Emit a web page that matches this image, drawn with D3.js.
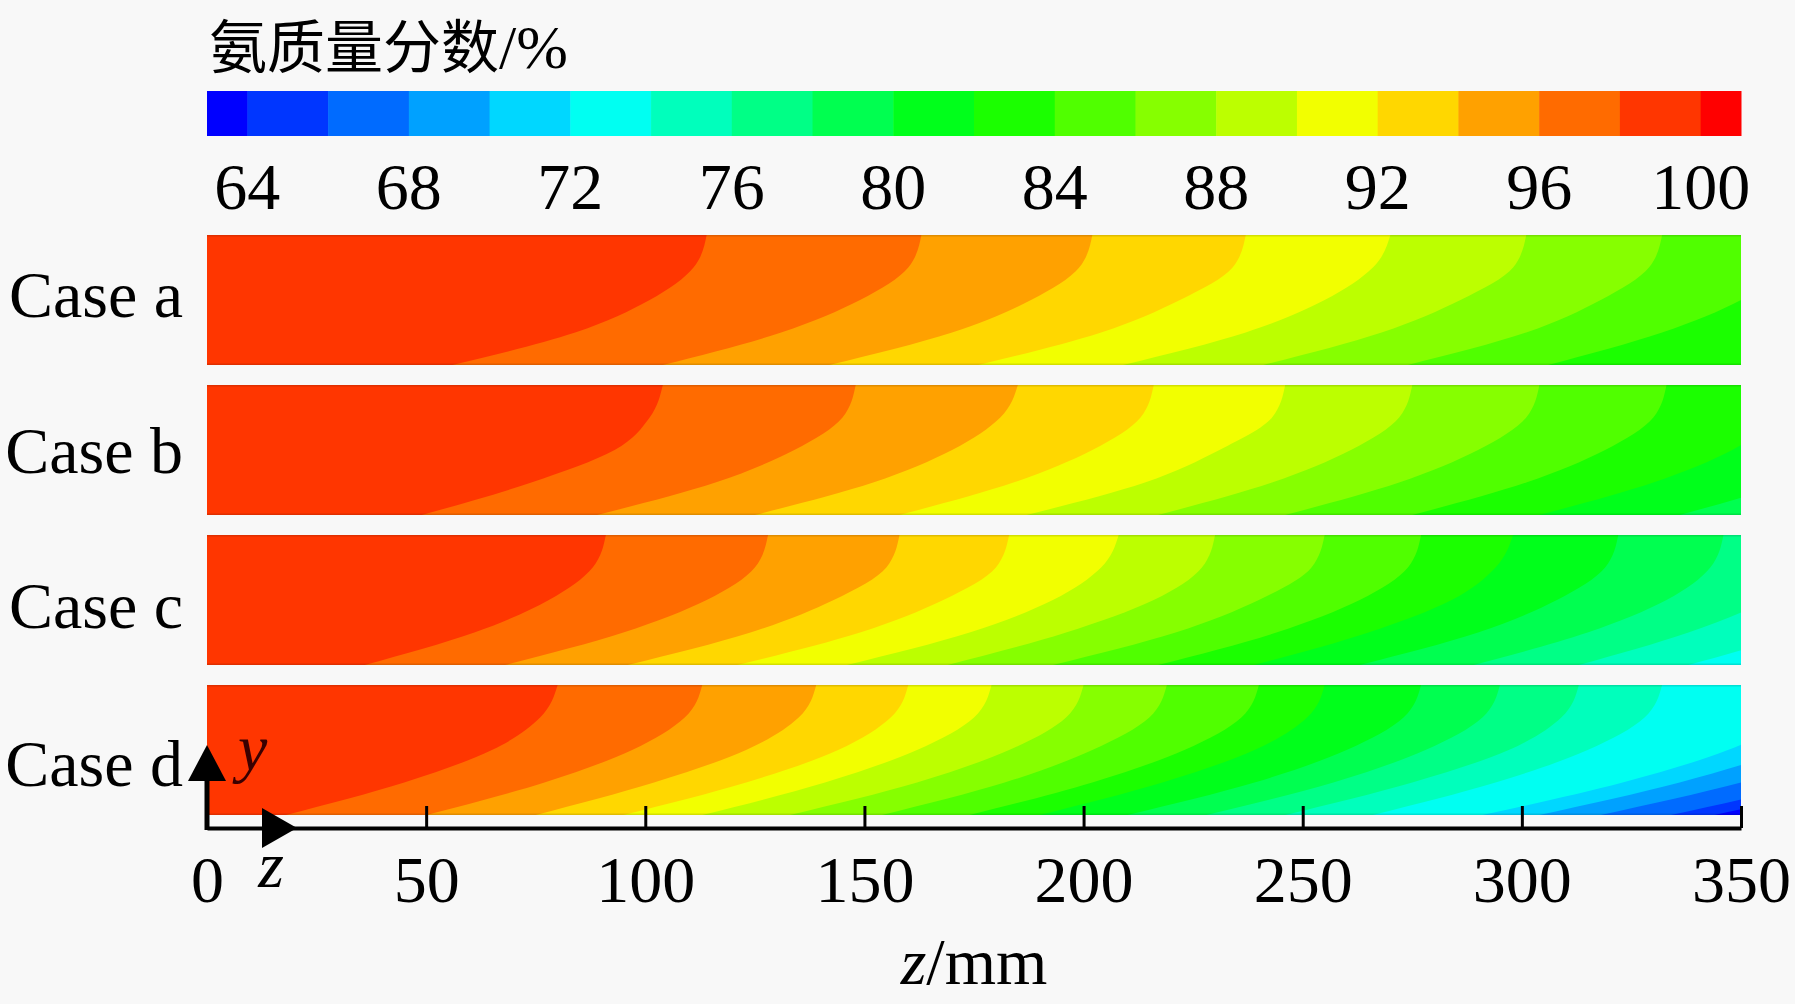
<!DOCTYPE html>
<html>
<head>
<meta charset="utf-8">
<script src="https://cdn.jsdelivr.net/npm/d3@7"></script>
<style>
  body { margin: 0; background: #f8f8f8; }
  svg { display: block; }
</style>
</head>
<body>
<div id="chart"></div>
<script>
// Datos
const cases = ["Case a", "Case b", "Case c", "Case d"];
const zTicks = [0, 50, 100, 150, 200, 250, 300, 350];
const barEdges = [63, 64, 66, 68, 70, 72, 74, 76, 78, 80, 82, 84, 86, 88, 90, 92, 94, 96, 98, 100, 101];
const barTicks = [64, 68, 72, 76, 80, 84, 88, 92, 96, 100];
const bandColors = [
  "#0000ff", "#0036ff", "#006bff", "#00a1ff", "#00d7ff",
  "#00fff2", "#00ffbc", "#00ff86", "#00ff50", "#00ff1b",
  "#1bff00", "#50ff00", "#86ff00", "#bcff00", "#f2ff00",
  "#ffd700", "#ffa100", "#ff6b00", "#ff3600", "#ff0000"
];

// Posición relativa de cada fila (0 = borde superior, 1 = pared inferior)
const rowFractions = [0, 0.25, 0.5, 0.75, 1];

// Isolíneas: nivel (%) y posición z (mm) en cada fila
const caseALevels = [98, 96, 94, 92, 90, 88, 86, 84];
const caseAZ = [
  [114, 111, 101, 84, 56],
  [163, 160, 149, 131, 104],
  [202, 199, 188, 170, 142],
  [237, 234, 222, 204, 176],
  [270, 266, 255, 237, 209],
  [301, 298, 286, 268, 241],
  [332, 329, 318, 301, 274],
  [363, 360, 350, 332, 306]
];

const caseBLevels = [98, 96, 94, 92, 90, 88, 86, 84, 82, 80];
const caseBZ = [
  [104, 101, 93, 74, 49],
  [148, 145, 134, 116, 89],
  [185, 181, 170, 152, 125],
  [216, 213, 202, 184, 158],
  [246, 243, 231, 214, 187],
  [275, 272, 261, 243, 217],
  [304, 301, 290, 272, 246],
  [333, 330, 319, 301, 275],
  [363, 358, 348, 330, 304],
  [392, 388, 379, 361, 336]
];

const caseCLevels = [98, 96, 94, 92, 90, 88, 86, 84, 82, 80, 78, 76, 74];
const caseCZ = [
  [91, 88, 78, 61, 36],
  [128, 125, 114, 95, 68],
  [158, 155, 143, 124, 96],
  [183, 180, 168, 149, 121],
  [208, 204, 193, 174, 146],
  [230, 227, 216, 196, 169],
  [255, 252, 240, 221, 193],
  [277, 274, 263, 244, 217],
  [298, 294, 284, 265, 239],
  [322, 319, 308, 290, 263],
  [346, 343, 333, 315, 289],
  [370, 366, 356, 338, 313],
  [395, 391, 381, 363, 338]
];

const caseDLevels = [98, 96, 94, 92, 90, 88, 86, 84, 82, 80, 78, 76, 74, 72, 70, 68, 66, 64];
const caseDZ = [
  [80, 76, 65, 45, 18],
  [113, 109, 97, 77, 50],
  [139, 135, 123, 102, 75],
  [160, 156, 144, 123, 95],
  [179, 175, 162, 141, 113],
  [200, 196, 183, 162, 133],
  [219, 215, 202, 182, 154],
  [240, 236, 223, 202, 174],
  [255, 251, 239, 218, 190],
  [277, 273, 260, 239, 210],
  [295, 291, 278, 257, 228],
  [313, 309, 297, 275, 246],
  [332, 328, 315, 294, 266],
  [365, 361, 347, 323, 291],
  [379, 374, 360, 336, 304],
  [392, 388, 374, 350, 318],
  [408, 404, 390, 366, 334],
  [418, 414, 400, 376, 344]
];

const caseLevels = [caseALevels, caseBLevels, caseCLevels, caseDLevels];
const caseZ = [caseAZ, caseBZ, caseCZ, caseDZ];

// Tamaño y escalas
const width = 1795, height = 1004;
const serif = "'Liberation Serif', 'Times New Roman', serif";
const labelShift = [17, 23, 28, 36];

const svg = d3.select("#chart").append("svg")
  .attr("width", width)
  .attr("height", height);

svg.append("rect").attr("width", width).attr("height", height).attr("fill", "#f8f8f8");

const x = d3.scaleLinear().domain([0, 350]).range([207, 1741]);
const xBar = d3.scaleLinear().domain([63, 101]).range([207, 1741]);
const yBand = d3.scaleBand().domain(cases).range([235, 815]).paddingInner(20 / 150).paddingOuter(0);

// Título
const title = svg.append("text").attr("x", 209).attr("y", 68).attr("fill", "#000");
title.append("tspan").attr("font-family", "'Noto Sans CJK SC'").attr("font-size", 58).text("氨质量分数");
title.append("tspan").attr("font-family", serif).attr("font-size", 62).text("/%");

// Barra de colores
svg.append("g").selectAll("rect")
  .data(bandColors)
  .join("rect")
  .attr("x", (d, i) => xBar(barEdges[i]))
  .attr("y", 91)
  .attr("width", (d, i) => xBar(barEdges[i + 1]) - xBar(barEdges[i]) + 0.5)
  .attr("height", 45)
  .attr("fill", d => d);

svg.append("g").selectAll("text")
  .data(barTicks)
  .join("text")
  .attr("x", d => xBar(d))
  .attr("y", 209)
  .attr("text-anchor", "middle")
  .attr("font-family", serif)
  .attr("font-size", 66)
  .text(d => d);

// Campos de contorno
const colorAbove = level => bandColors[barEdges.indexOf(level)];
const colorBelow = level => bandColors[barEdges.indexOf(level) - 1];

cases.forEach((name, i) => {
  const top = yBand(name), h = yBand.bandwidth();
  const fy = d3.scaleLinear().domain([0, 1]).range([top, top + h]);

  svg.append("clipPath").attr("id", "clip" + i)
    .append("rect")
    .attr("x", x(0)).attr("y", top)
    .attr("width", x(350) - x(0)).attr("height", h);

  const g = svg.append("g").attr("clip-path", `url(#clip${i})`);
  const levels = caseLevels[i];
  const zs = caseZ[i];

  // fondo con la banda más baja
  g.append("rect")
    .attr("x", x(0)).attr("y", top)
    .attr("width", x(350) - x(0)).attr("height", h)
    .attr("fill", colorBelow(levels[levels.length - 1]));

  const line = d3.line()
    .x(d => x(d[0]))
    .y(d => fy(d[1]))
    .curve(d3.curveMonotoneY);

  // de menor a mayor: cada región a la izquierda de su isolínea
  for (let k = levels.length - 1; k >= 0; k--) {
    const pts = zs[k].map((z, j) => [z, rowFractions[j]]);
    const d = line(pts) + `L${x(-5)},${fy(1)}L${x(-5)},${fy(0)}Z`;
    g.append("path").attr("d", d).attr("fill", colorAbove(levels[k]));
  }

  // bordes finos del dominio
  g.append("line")
    .attr("x1", x(0)).attr("x2", x(350))
    .attr("y1", top + 0.5).attr("y2", top + 0.5)
    .attr("stroke", "#000").attr("stroke-opacity", 0.12).attr("stroke-width", 2);
  g.append("line")
    .attr("x1", x(0)).attr("x2", x(350))
    .attr("y1", top + h - 0.5).attr("y2", top + h - 0.5)
    .attr("stroke", "#000").attr("stroke-opacity", 0.12).attr("stroke-width", 2);

  svg.append("text")
    .attr("x", 183)
    .attr("y", top + h / 2 + labelShift[i])
    .attr("text-anchor", "end")
    .attr("font-family", serif)
    .attr("font-size", 66)
    .text(name);
});

// Eje z
const axis = svg.append("g")
  .attr("transform", "translate(0,828)")
  .call(d3.axisBottom(x).tickValues(zTicks).tickSizeInner(-22).tickSizeOuter(0).tickPadding(27));

axis.select(".domain").attr("stroke", "#000").attr("stroke-width", 4);
axis.selectAll(".tick line").attr("stroke", "#000").attr("stroke-width", 3);
axis.selectAll(".tick text")
  .attr("font-family", serif)
  .attr("font-size", 66)
  .attr("fill", "#000");

const zLabel = svg.append("text")
  .attr("x", x(175))
  .attr("y", 984)
  .attr("text-anchor", "middle")
  .attr("font-family", serif)
  .attr("font-size", 66);
zLabel.append("tspan").attr("font-style", "italic").text("z");
zLabel.append("tspan").text("/mm");

// Flechas de coordenadas
svg.append("line")
  .attr("x1", x(0)).attr("x2", x(0))
  .attr("y1", 830).attr("y2", 778)
  .attr("stroke", "#000").attr("stroke-width", 5);

svg.append("path")
  .attr("d", `M${x(0)},745L${x(0) + 19},781L${x(0) - 19},781Z`)
  .attr("fill", "#000");

svg.append("path")
  .attr("d", `M${x(0) + 90},828L${x(0) + 55},808L${x(0) + 55},848Z`)
  .attr("fill", "#000");

svg.append("text")
  .attr("x", 238).attr("y", 770)
  .attr("font-family", serif)
  .attr("font-style", "italic")
  .attr("font-size", 66)
  .attr("fill", "#3a0000")
  .text("y");

svg.append("text")
  .attr("x", 271).attr("y", 887)
  .attr("text-anchor", "middle")
  .attr("font-family", serif)
  .attr("font-style", "italic")
  .attr("font-size", 66)
  .text("z");
</script>
</body>
</html>
